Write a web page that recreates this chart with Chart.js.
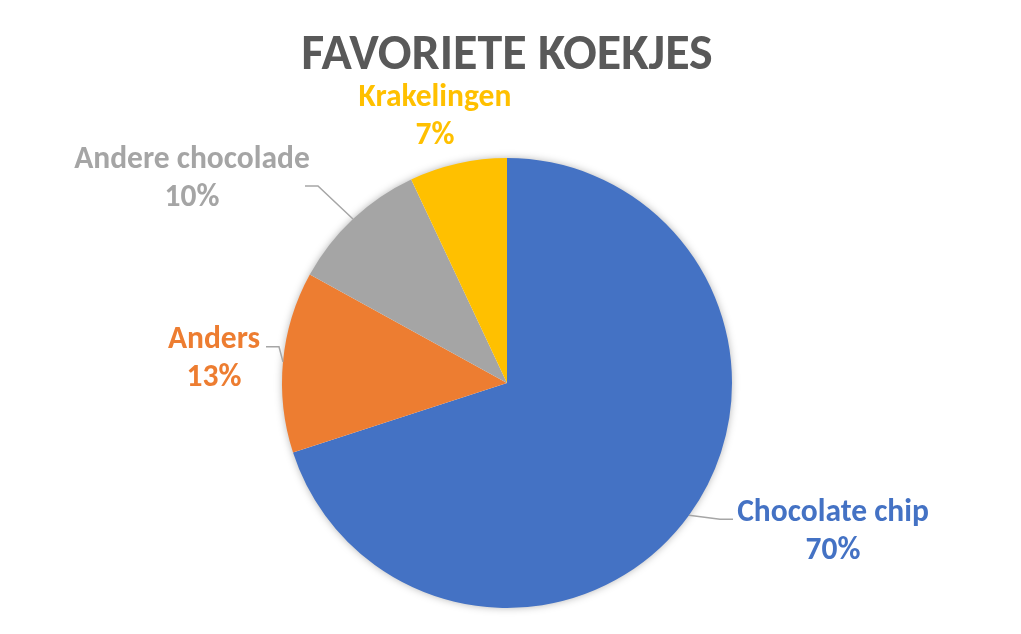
<!DOCTYPE html>
<html>
<head>
<meta charset="utf-8">
<title>Favoriete koekjes</title>
<script src="https://cdn.jsdelivr.net/npm/chart.js@4"></script>
<style>
  html, body { margin: 0; padding: 0; background: #fff; }
  canvas { display: block; }
</style>
</head>
<body>
<canvas id="chart" width="1021" height="634"></canvas>
<script>
"use strict";

// ── Data ─────────────────────────────────────────────────────────────────────
const TITLE = "FAVORIETE KOEKJES";
const CATEGORIES = ["Chocolate chip", "Anders", "Andere chocolade", "Krakelingen"];
const SHARES = [70, 13, 10, 7];
const COLORS = ["#4472C4", "#ED7D31", "#A5A5A5", "#FFC000"];

const FONT = "Carlito, Calibri, Lato, sans-serif";

// Label placement per slice, relative to the point where the slice's mid-angle
// meets the rim: text centre, and where the leader line meets the label.
const LABEL_PLACE = [
  { text: [144, 16],   attach: [44, 4],    elbow: -13 },
  { text: [-69, -4],   attach: [-17, -15], elbow: 13 },
  { text: [-161, -41], attach: [-48, -33], elbow: 13 },
  { text: [-23, -47],  attach: null },
];

// ── Plugins ──────────────────────────────────────────────────────────────────

// soft shadow behind the whole pie (drawn once, so slices don't shade each other)
const pieShadow = {
  id: "pieShadow",
  beforeDatasetsDraw(chart) {
    const arc = chart.getDatasetMeta(0).data[0];
    if (!arc) return;
    const ctx = chart.ctx;
    ctx.save();
    ctx.shadowColor = "rgba(0,0,0,0.35)";
    ctx.shadowBlur = 9;
    ctx.fillStyle = "#fff";
    ctx.beginPath();
    ctx.arc(arc.x, arc.y, arc.outerRadius - 1, 0, Math.PI * 2);
    ctx.fill();
    ctx.restore();
  },
};

const outsideLabels = {
  id: "outsideLabels",
  afterDatasetsDraw(chart) {
    const ctx = chart.ctx;
    const total = SHARES.reduce((s, v) => s + v, 0);
    chart.getDatasetMeta(0).data.forEach((arc, i) => {
      const mid = (arc.startAngle + arc.endAngle) / 2;
      const ex = arc.x + Math.cos(mid) * arc.outerRadius;
      const ey = arc.y + Math.sin(mid) * arc.outerRadius;
      const place = LABEL_PLACE[i];

      if (place.attach) {
        const ax = ex + place.attach[0], ay = ey + place.attach[1];
        ctx.save();
        ctx.strokeStyle = "#A6A6A6";
        ctx.lineWidth = 1.5;
        ctx.beginPath();
        ctx.moveTo(ax, ay);
        ctx.lineTo(ax + place.elbow, ay);
        ctx.lineTo(ex, ey);
        ctx.stroke();
        ctx.restore();
      }

      const cx = ex + place.text[0], cy = ey + place.text[1];
      const pct = Math.round(SHARES[i] / total * 100) + "%";
      ctx.save();
      ctx.fillStyle = COLORS[i];
      ctx.font = `bold 31.5px ${FONT}`;
      ctx.textAlign = "center";
      ctx.textBaseline = "alphabetic";
      ctx.fillText(CATEGORIES[i], cx, cy - 10);
      ctx.fillText(pct, cx, cy + 28);
      ctx.restore();
    });
  },
};

// ── Chart ────────────────────────────────────────────────────────────────────
new Chart(document.getElementById("chart"), {
  type: "pie",
  data: {
    labels: CATEGORIES,
    datasets: [{
      data: SHARES,
      backgroundColor: COLORS,
      borderWidth: 0,
    }],
  },
  options: {
    responsive: false,
    animation: false,
    layout: { padding: { top: 0, bottom: 26, left: 282, right: 289 } },
    plugins: {
      legend: { display: false },
      tooltip: { enabled: false },
      title: {
        display: true,
        text: TITLE,
        color: "#595959",
        font: { family: FONT, size: 50, weight: "bold", lineHeight: 1.2 },
        padding: { top: 26, bottom: 72 },
      },
    },
  },
  plugins: [pieShadow, outsideLabels],
});
</script>
</body>
</html>
